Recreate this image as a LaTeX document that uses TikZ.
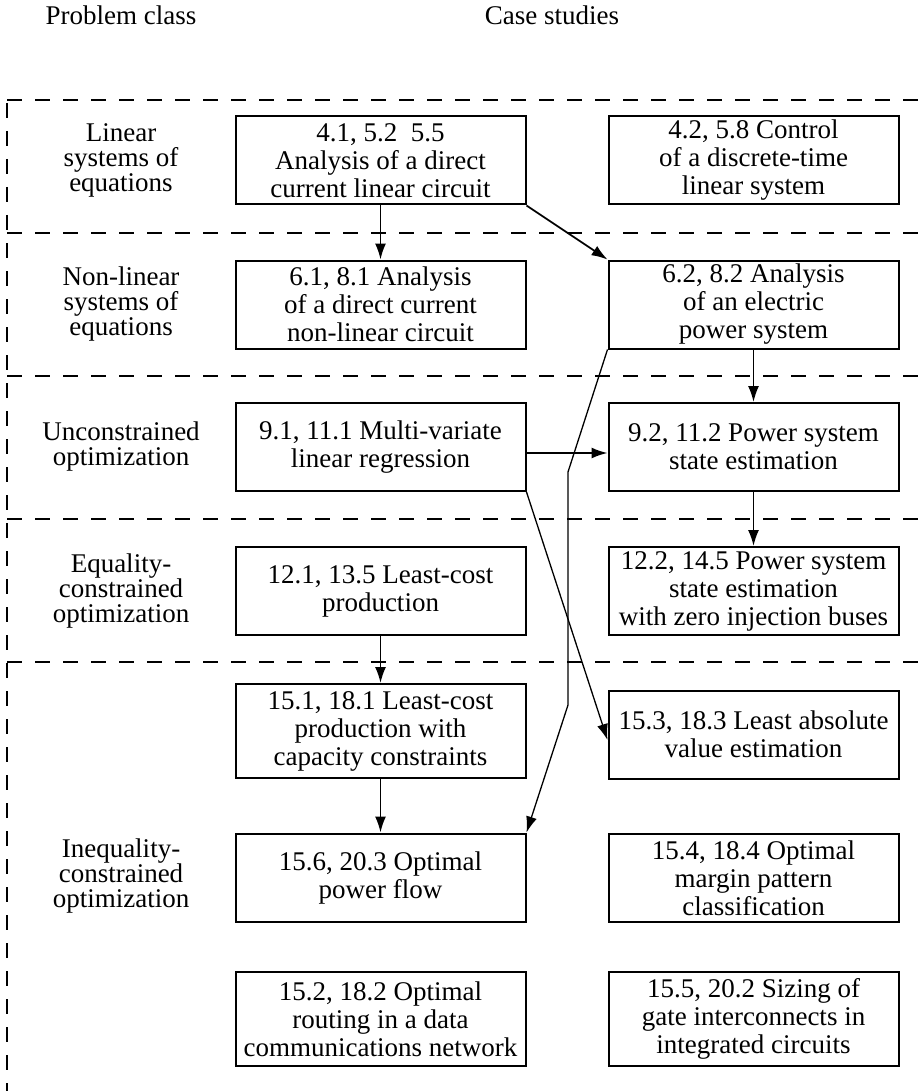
\documentclass[tikz,border=0pt]{standalone}
\usepackage{fontspec}
\setmainfont{Liberation Serif}
\usetikzlibrary{arrows.meta}

\tikzset{
  casebox/.style={draw, line width=1pt, minimum width=145pt, minimum height=44pt,
    inner ysep=1pt, align=center, font=\fontsize{13.5}{14}\selectfont},
  tallbox/.style={casebox, minimum height=47pt},
  classlabel/.style={align=center, font=\fontsize{13.5}{12.5}\selectfont},
  rowline/.style={dash pattern=on 7.5pt off 6.5pt, line width=0.65pt},
  link/.style={-{Latex[length=8pt,width=5.5pt]}, line width=0.85pt},
}

\begin{document}
\begin{tikzpicture}[x=0.5pt, y=-0.5pt]
        \useasboundingbox (0,0) rectangle (923,1091);

        % headings
        \node[classlabel, anchor=base] (hclass) at (121,25) {Problem class};
        \node[classlabel, anchor=base] (hcase) at (552,25) {Case studies};

        % row separators
        \foreach \y in {100,233,376,519,662}
          \draw[rowline] (7,\y) -- (923,\y);
        \draw[rowline] (7,103) -- (7,1091);

        % problem classes
        \node[classlabel] (c1) at (121,160.5) {Linear\\systems of\\equations};
        \node[classlabel] (c2) at (121,304.5) {Non-linear\\systems of\\equations};
        \node[classlabel] (c3) at (121,447) {Unconstrained\\optimization};
        \node[classlabel] (c4) at (121,591) {Equality-\\constrained\\optimization};
        \node[classlabel] (c5) at (121,876) {Inequality-\\constrained\\optimization};

        % case studies
        \node[casebox] (b41) at (380.5,160.5) {4.1, 5.2\ \ 5.5\\Analysis of a direct\\current linear circuit};
        \node[casebox] (b42) at (753.5,160.5) {4.2, 5.8 Control\\of a discrete-time\\linear system};
        \node[casebox] (b61) at (380.5,304.5) {6.1, 8.1 Analysis\\of a direct current\\non-linear circuit};
        \node[casebox] (b62) at (753.5,304.5) {6.2, 8.2 Analysis\\of an electric\\power system};
        \node[casebox] (b91) at (380.5,447) {9.1, 11.1 Multi-variate\\linear regression};
        \node[casebox] (b92) at (753.5,447) {9.2, 11.2 Power system\\state estimation};
        \node[casebox] (b121) at (380.5,591) {12.1, 13.5 Least-cost\\production};
        \node[casebox] (b122) at (753.5,591) {12.2, 14.5 Power system\\state estimation\\with zero injection buses};
        \node[tallbox] (b151) at (380.5,731) {15.1, 18.1 Least-cost\\production with\\capacity constraints};
        \node[casebox] (b153) at (753.5,734.5) {15.3, 18.3 Least absolute\\value estimation};
        \node[casebox] (b156) at (380.5,877.5) {15.6, 20.3 Optimal\\power flow};
        \node[casebox] (b154) at (753.5,878) {15.4, 18.4 Optimal\\margin pattern\\classification};
        \node[tallbox] (b152) at (380.5,1019) {15.2, 18.2 Optimal\\routing in a data\\communications network};
        \node[tallbox] (b155) at (753.5,1019) {15.5, 20.2 Sizing of\\gate interconnects in\\integrated circuits};

        % links
        \draw[link] (b41) -- (b61);
        \draw[link] (b41.south east) -- (b62.north west);
        \draw[link] (b62) -- (b92);
        \draw[link] ([yshift=-3pt]b91.east) -- ([yshift=-3pt]b92.west);
        \draw[link] (b92) -- (b122);
        \draw[link] (b121) -- (b151);
        \draw[link] (b151) -- (b156);
        \draw[link, line width=0.65pt] (b91.south east) -- ([yshift=-2.75pt]b153.west);
        \coordinate (kneeA) at (568,472);
        \coordinate (kneeB) at (568,705);
        \draw[link, line width=0.65pt] (b62.south west) -- (kneeA) -- (kneeB) -- (b156.north east);
      \end{tikzpicture}
\end{document}
